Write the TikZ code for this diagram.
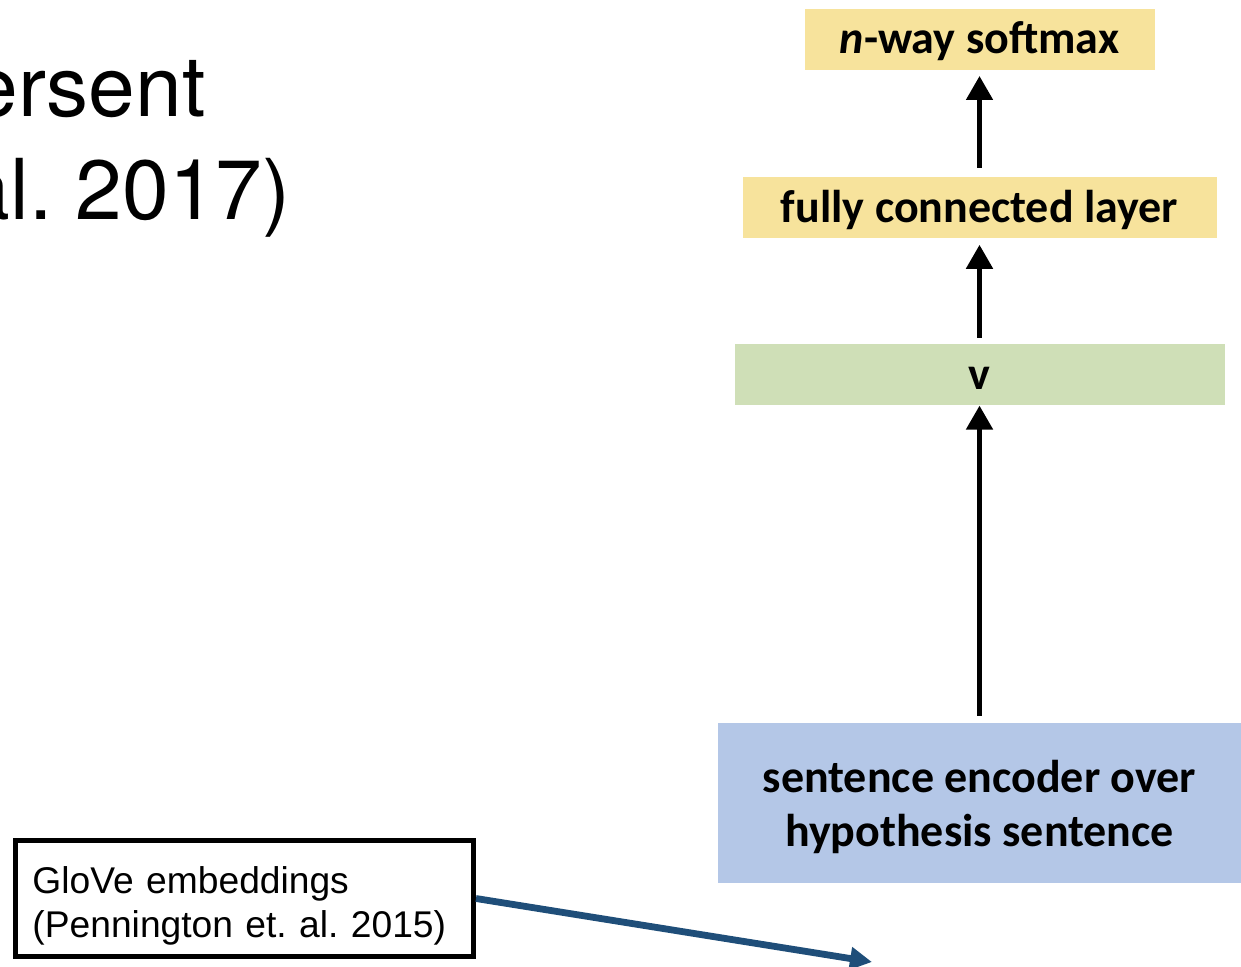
\documentclass[tikz,border=0pt]{standalone}
\usepackage{fontspec}
\setmainfont{Carlito}
\newfontfamily\titlefont{TeX Gyre Heros}
\newfontfamily\glovefont{Liberation Sans}
\usepackage{tikz}
\usetikzlibrary{positioning, arrows.meta}
\usepackage{xcolor}
\definecolor{layeryellow}{HTML}{F7E39C}
\definecolor{vgreen}{HTML}{CFDFB7}
\definecolor{encblue}{HTML}{B4C7E7}
\definecolor{pointerblue}{HTML}{1F4E79}

\begin{document}
\begin{tikzpicture}[x=0.5pt, y=-0.5pt, every node/.style={font=\bfseries\fontsize{23}{27}\selectfont}]
  \tikzstyle{layer} = [rectangle, inner sep=0pt, minimum height=30.5pt, text height=18.4pt, text depth=3.9pt, text centered]
  \tikzstyle{arrow} = [line width=2.5pt, -{Triangle[width=13pt,length=12pt]}]
  \tikzstyle{pointer} = [line width=3.4pt, draw=pointerblue, -{Triangle[width=11pt,length=11pt]}]
  \useasboundingbox (0,0) rectangle (1241,967);

  % slide title, cut at the left edge
  \node (titleA) [anchor=base east, inner sep=0pt, font=\titlefont\fontsize{42}{50}\selectfont] at (206,117) {ersent};
  \node (titleB) [anchor=base east, inner sep=0pt, font=\titlefont\fontsize{42}{50}\selectfont] at (291,220) {al.\ 2017)};

  % network
  \node (enc) [rectangle, inner sep=0pt, fill=encblue, minimum width=261.5pt, minimum height=80pt, text depth=0pt, align=center] at (979.5,803) {sentence encoder over\\hypothesis sentence};
  \node (v) [layer, fill=vgreen, minimum width=245pt, above=158.5pt of enc] {v};
  \node (fc) [layer, fill=layeryellow, minimum width=237pt, above=52.5pt of v] {fully connected layer};
  \node (softmax) [layer, fill=layeryellow, minimum width=175pt, above=53.5pt of fc] {\textit{n}-way softmax};

  \draw [arrow, shorten <=3.5pt] (enc) -- (v);
  \draw [arrow, shorten <=3pt, shorten >=3pt] (v) -- (fc);
  \draw [arrow, shorten <=4.5pt, shorten >=3pt] (fc) -- (softmax);

  % embeddings callout
  \node (glove) [draw, line width=2.5pt, anchor=north west, align=left, text width=212pt, inner xsep=8.5pt, minimum height=58pt, text depth=18pt, font=\glovefont\fontsize{18.6}{22}\selectfont] at (13,838) {GloVe embeddings\\(Pennington et.\ al.\ 2015)};
  \coordinate (gloveend) at (872,962);
  \draw [pointer] (glove.east) -- (gloveend);
\end{tikzpicture}
\end{document}
